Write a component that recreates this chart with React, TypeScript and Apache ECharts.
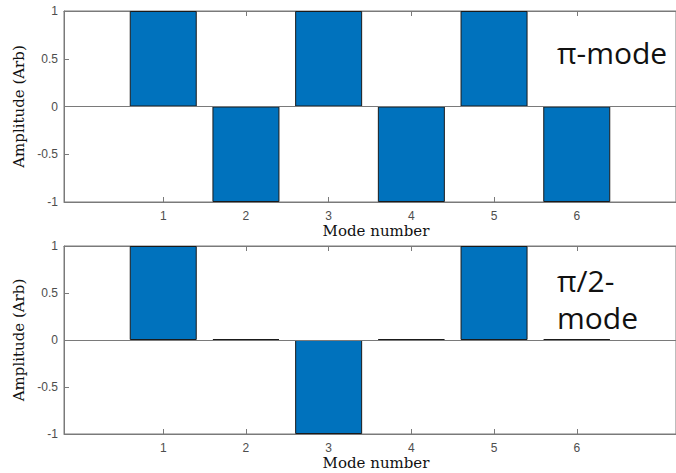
import React, { useEffect, useRef } from "react";
import * as echarts from "echarts";

// Mode numbers and normalised cell amplitudes for the two standing-wave modes
const modeNumbers = [1, 2, 3, 4, 5, 6];
const piModeAmplitude = [1, -1, 1, -1, 1, -1];
const halfPiModeAmplitude = [1, 0, -1, 0, 1, 0];

const BAR_COLOR = "#0072BD";
const AXIS_COLOR = "#7a7a7a";
const LABEL_COLOR = "#4d4d4d";
const SERIF = "'DejaVu Serif', serif";
const SANS = "'Liberation Sans', Arial, sans-serif";

export default function App() {
  const ref = useRef<HTMLDivElement>(null);

  useEffect(() => {
    if (!ref.current) return;
    const chart = echarts.init(ref.current, undefined, { renderer: "svg" });

    // Boxed axes; the right edge runs just past the canvas
    const box = { show: true, borderColor: AXIS_COLOR, borderWidth: 1, backgroundColor: "transparent" };
    const grids = [
      { ...box, left: 64, top: 11, width: 620, height: 191 },
      { ...box, left: 64, top: 246, width: 620, height: 188 },
    ];

    const bottomX = (gridIndex: number) => ({
      type: "value" as const,
      gridIndex,
      position: "bottom" as const,
      min: -0.2,
      max: 7.2,
      name: "Mode number",
      nameLocation: "middle" as const,
      nameGap: 21,
      nameTextStyle: { fontFamily: SERIF, fontSize: 15, color: "#111", padding: [0, 0, 0, 12] },
      axisLine: { show: true, onZero: false, lineStyle: { color: AXIS_COLOR, width: 1 } },
      axisTick: { show: true, inside: true, length: 5, customValues: modeNumbers, lineStyle: { color: AXIS_COLOR } },
      axisLabel: { show: true, customValues: modeNumbers, fontFamily: SANS, fontSize: 12, color: LABEL_COLOR, margin: 8 },
      splitLine: { show: false },
    });

    const topX = (gridIndex: number) => ({
      type: "value" as const,
      gridIndex,
      position: "top" as const,
      min: -0.2,
      max: 7.2,
      axisLine: { show: true, onZero: false, lineStyle: { color: AXIS_COLOR, width: 1 } },
      axisTick: { show: true, inside: true, length: 5, customValues: modeNumbers, lineStyle: { color: AXIS_COLOR } },
      axisLabel: { show: false },
      splitLine: { show: false },
    });

    const yAxis = (gridIndex: number) => ({
      type: "value" as const,
      gridIndex,
      min: -1,
      max: 1,
      interval: 0.5,
      name: "Amplitude (Arb)",
      nameLocation: "middle" as const,
      nameGap: 33,
      nameTextStyle: { fontFamily: SERIF, fontSize: 15, color: "#111" },
      axisLine: { show: true, onZero: false, lineStyle: { color: AXIS_COLOR, width: 1 } },
      axisTick: { show: true, inside: true, length: 5, lineStyle: { color: AXIS_COLOR } },
      axisLabel: { fontFamily: SANS, fontSize: 12, color: LABEL_COLOR, margin: 6 },
      splitLine: { show: false },
    });

    const barSeries = (xAxisIndex: number, yAxisIndex: number, values: number[]) => ({
      type: "bar" as const,
      xAxisIndex,
      yAxisIndex,
      barWidth: 67,
      barMinHeight: 1,
      data: modeNumbers.map((m, i) => [m, values[i]]),
      itemStyle: { color: BAR_COLOR, borderColor: "#1a1a1a", borderWidth: 1 },
      markLine: {
        silent: true,
        symbol: "none",
        label: { show: false },
        lineStyle: { color: AXIS_COLOR, type: "solid", width: 1 },
        data: [{ yAxis: 0 }],
      },
    });

    chart.setOption({
      animation: false,
      backgroundColor: "#fff",
      grid: grids,
      xAxis: [bottomX(0), topX(0), bottomX(1), topX(1)],
      yAxis: [yAxis(0), yAxis(1)],
      series: [
        barSeries(0, 0, piModeAmplitude),
        barSeries(2, 1, halfPiModeAmplitude),
      ],
      graphic: [
        {
          type: "text",
          left: 557,
          top: 37,
          style: { text: "π-mode", font: "30px 'Open Sans', sans-serif", fill: "#111" },
        },
        {
          type: "text",
          left: 557,
          top: 262,
          style: { text: "π/2-\nmode", font: "30px 'Open Sans', sans-serif", fill: "#111", lineHeight: 37 },
        },
      ],
    });

    return () => chart.dispose();
  }, []);

  return <div ref={ref} style={{ width: 676, height: 473, position: "fixed", left: 0, top: 0 }} />;
}
